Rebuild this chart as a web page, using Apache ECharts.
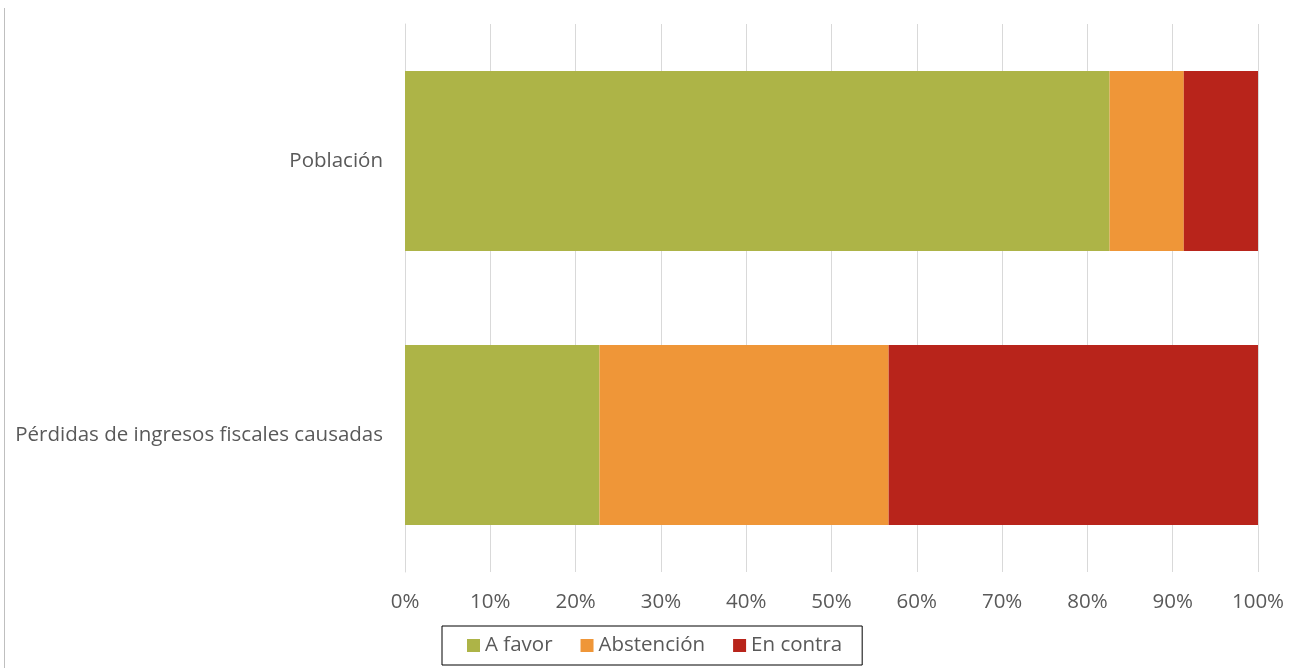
<!DOCTYPE html>
<html><head><meta charset="utf-8">
<script src="https://cdn.jsdelivr.net/npm/echarts@6/dist/echarts.min.js"></script>
<style>html,body{margin:0;padding:0;background:#fff}#c{width:1295px;height:668px}</style>
</head><body><div id="c"></div>
<script>
const categories = ['Pérdidas de ingresos fiscales causadas', 'Población'];
const aFavor = [22.8, 82.6];
const abstencion = [33.9, 8.7];
const enContra = [43.3, 8.7];
const xTicks = [0,10,20,30,40,50,60,70,80,90,100];
const seriesNames = ['A favor', 'Abstención', 'En contra'];
const colors = ['#ADB447', '#EF9638', '#B8241B'];

const chart = echarts.init(document.getElementById('c'));
const font = '"Open Sans", sans-serif';
chart.setOption({
  animation: false,
  grid: {left: 405, right: 37, top: 24, bottom: 96},
  xAxis: {
    type: 'value', min: xTicks[0], max: xTicks[xTicks.length - 1], interval: 10,
    axisLabel: {formatter: v => v + '%', color: '#595959', fontSize: 20.5, fontFamily: font, margin: 20},
    splitLine: {lineStyle: {color: '#D9D9D9', width: 1}},
    axisLine: {show: false}, axisTick: {show: false}
  },
  yAxis: {
    type: 'category', data: categories,
    axisLabel: {color: '#595959', fontSize: 20.5, fontFamily: font, margin: 22},
    axisLine: {show: true, lineStyle: {color: '#D9D9D9'}}, axisTick: {show: false}
  },
  legend: {
    left: 442, top: 626,
    padding: [9, 20, 9, 25],
    borderColor: '#000', borderWidth: 1,
    itemWidth: 13, itemHeight: 13, itemGap: 28, icon: 'rect',
    textStyle: {color: '#595959', fontSize: 20.5, fontFamily: font},
    data: seriesNames
  },
  graphic: [{type: 'line', shape: {x1: 4.5, y1: 8, x2: 4.5, y2: 668}, style: {stroke: '#BFBFBF', lineWidth: 1}}],
  series: [aFavor, abstencion, enContra].map((d, i) => ({
    name: seriesNames[i], type: 'bar', stack: 'total', data: d,
    barWidth: 180, itemStyle: {color: colors[i]}
  }))
});
</script></body></html>
